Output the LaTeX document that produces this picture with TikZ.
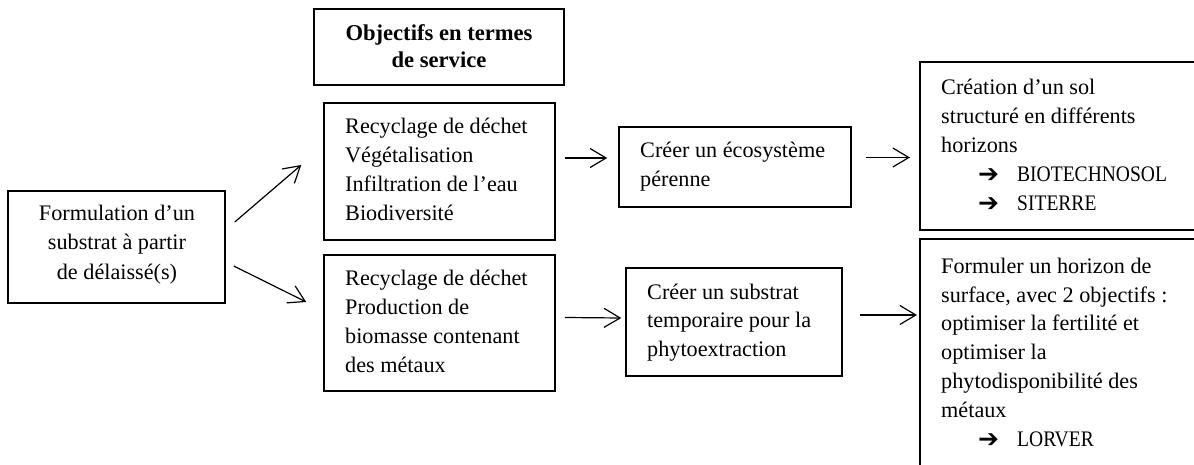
\documentclass[tikz,border=0pt]{standalone}
\usepackage{fontspec}
\setmainfont{Liberation Serif}
\newfontfamily\arrowfont{DejaVu Sans}
\newfontfamily\capsfont[FakeStretch=0.88]{Liberation Serif}
\usetikzlibrary{arrows.meta}
\tikzset{
  x=1pt,y=-1pt,
  boxa/.style={draw=black,line width=1.5pt,inner sep=0pt},
  lbl/.style={font=\fontsize{22.2}{29}\selectfont,anchor=base west,inner sep=0pt,align=left},
  lblcap/.style={font=\capsfont\fontsize{22.2}{29}\selectfont,anchor=base west,inner sep=0pt,align=left},
  lblc/.style={font=\fontsize{22.2}{29}\selectfont,anchor=base,inner sep=0pt,align=center},
  lblb/.style={font=\fontsize{22.6}{27.5}\selectfont\bfseries,anchor=base,inner sep=0pt,align=center},
  conn/.style={draw=black,line width=1.2pt,-{Straight Barb[length=16pt,width=19pt,line width=1.2pt]}},
}
\newcommand{\arw}{{\arrowfont\fontsize{25}{29}\selectfont\bfseries ➔}}
\begin{document}
\begin{tikzpicture}
\useasboundingbox (0,0) rectangle (1194,465);
% boxes
\node[boxa,minimum width=250,minimum height=76] (obj) at (439,47) {};
\node[boxa,minimum width=231,minimum height=137] (a) at (439.5,171.5) {};
\node[boxa,minimum width=231,minimum height=136] (b) at (439.5,323) {};
\node[boxa,minimum width=217,minimum height=112] (f) at (116.5,247) {};
\node[boxa,minimum width=232,minimum height=80] (c) at (735,167) {};
\node[boxa,minimum width=216,minimum height=108] (d) at (734,322) {};
\draw[line width=1.5pt] (1194,62) -- (920,62) -- (920,230) -- (1194,230);
\draw[line width=1.5pt] (1194,239) -- (920,239) -- (920,465);
\coordinate (ew) at (920,146);
\coordinate (gw) at (920,315);
% texts
\node[lblb] (objt) at (439,41) {Objectifs en termes};
\node[lblb] (objt2) at (439,68) {de service};
\node[lbl] (a1) at (345,134) {Recyclage de déchet};
\node[lbl] (a2) at (345,163) {Végétalisation};
\node[lbl] (a3) at (345,192) {Infiltration de l’eau};
\node[lbl] (a4) at (345,221) {Biodiversité};
\node[lbl] (b1) at (345,285) {Recyclage de déchet};
\node[lbl] (b2) at (345,314) {Production de};
\node[lbl] (b3) at (345,343) {biomasse contenant};
\node[lbl] (b4) at (345,372) {des métaux};
\node[lblc] (f1) at (117,221) {Formulation d’un};
\node[lblc] (f2) at (117,250) {substrat à partir};
\node[lblc] (f3) at (117,279) {de délaissé(s)};
\node[lbl] (c1) at (640,158) {Créer un écosystème};
\node[lbl] (c2) at (640,187) {pérenne};
\node[lbl] (d1) at (647,299) {Créer un substrat};
\node[lbl] (d2) at (647,327) {temporaire pour la};
\node[lbl] (d3) at (647,356) {phytoextraction};
\node[lbl] (e1) at (941,95) {Création d’un sol};
\node[lbl] (e2) at (941,124) {structuré en différents};
\node[lbl] (e3) at (941,153) {horizons};
\node[lbl] (e4a) at (978,183) {\arw};
\node[lblcap] (e4) at (1017,182) {BIOTECHNOSOL};
\node[lbl] (e5a) at (978,212) {\arw};
\node[lblcap] (e5) at (1017,211) {SITERRE};
\node[lbl] (g1) at (941,273) {Formuler un horizon de};
\node[lbl] (g2) at (941,302) {surface, avec 2 objectifs :};
\node[lbl] (g3) at (941,330) {optimiser la fertilité et};
\node[lbl] (g4) at (941,359) {optimiser la};
\node[lbl] (g5) at (941,388) {phytodisponibilité des};
\node[lbl] (g6) at (941,417) {métaux};
\node[lbl] (g7a) at (978,447) {\arw};
\node[lblcap] (g7) at (1017,446) {LORVER};
% connectors
\draw[conn] ([xshift=9,yshift=25]f.east) -- ([xshift=-22,yshift=6.5]a.west);
\draw[conn] ([xshift=8,yshift=-19]f.east) -- ([xshift=-17,yshift=21]b.west);
\draw[conn] ([xshift=9,yshift=13.5]a.east) -- ([xshift=-11,yshift=9]c.west);
\draw[conn] ([xshift=14,yshift=9.5]c.east) -- ([xshift=-10,yshift=-11.5]ew);
\draw[conn] ([xshift=9,yshift=5.5]b.east) -- ([xshift=-4,yshift=4]d.west);
\draw[conn] ([xshift=17,yshift=7]d.east) -- ([xshift=-3]gw);
\end{tikzpicture}
\end{document}
